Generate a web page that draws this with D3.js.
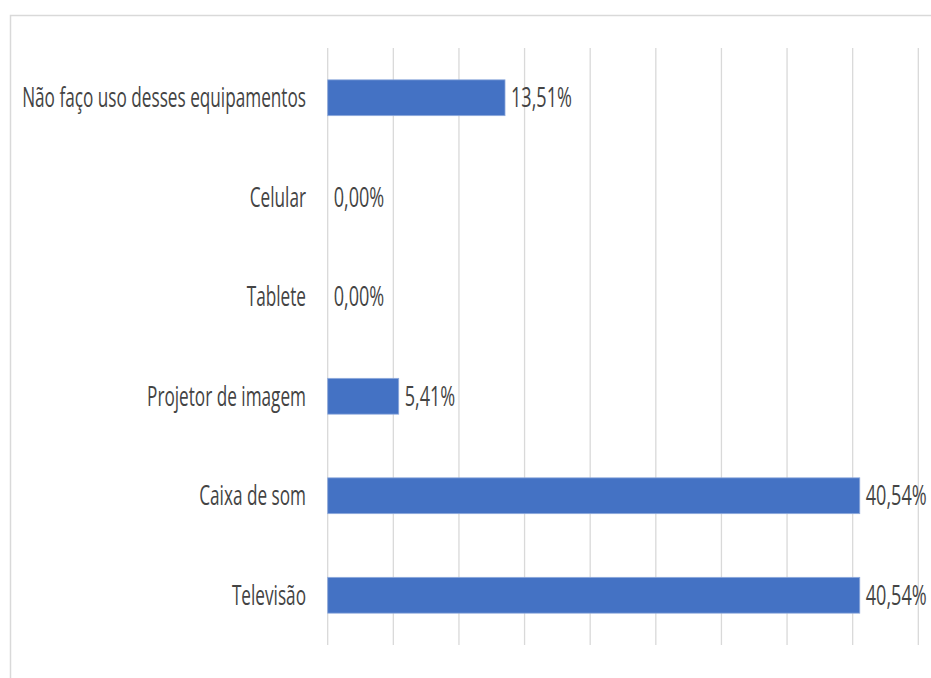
<!DOCTYPE html>
<html>
<head>
<meta charset="utf-8">
<script src="https://cdn.jsdelivr.net/npm/d3@7/dist/d3.min.js"></script>
<style>
  html, body { margin: 0; padding: 0; background: #fff; overflow: hidden; }
  #chart { width: 931px; height: 678px; }
</style>
</head>
<body>
<div id="chart"></div>
<script>
(function () {
  const CATEGORIES = [
    "Não faço uso desses equipamentos",
    "Celular",
    "Tablete",
    "Projetor de imagem",
    "Caixa de som",
    "Televisão"
  ];
  const VALUES = [13.51, 0.00, 0.00, 5.41, 40.54, 40.54];
  const X_MAX = 45;
  const X_STEP = 5;

  const WIDTH = 931, HEIGHT = 678;
  const PLOT = { left: 327.7, right: 918.3, top: 48, bottom: 645 };
  const BAR_COLOR = "#4472c4";
  const TEXT_COLOR = "#444444";
  const FONT = "'Open Sans', 'Liberation Sans', sans-serif";
  const FONT_SIZE = 27.5;

  const svg = d3.select("#chart").append("svg")
    .attr("width", WIDTH)
    .attr("height", HEIGHT)
    .attr("viewBox", `0 0 ${WIDTH} ${HEIGHT}`);

  // chart frame (cut by the right and bottom edges)
  svg.append("rect")
    .attr("x", 10.5)
    .attr("y", 15.5)
    .attr("width", WIDTH + 20)
    .attr("height", HEIGHT + 20)
    .attr("fill", "#fff")
    .attr("stroke", "#d9d9d9")
    .attr("stroke-width", 1.5);

  const x = d3.scaleLinear().domain([0, X_MAX]).range([PLOT.left, PLOT.right]);
  const y = d3.scaleBand()
    .domain(CATEGORIES)
    .range([PLOT.top, PLOT.bottom])
    .paddingInner(0.64)
    .paddingOuter(0.32);

  // vertical gridlines
  svg.append("g")
    .selectAll("line")
    .data(d3.range(0, X_MAX + X_STEP / 2, X_STEP))
    .join("line")
    .attr("x1", d => x(d))
    .attr("x2", d => x(d))
    .attr("y1", PLOT.top)
    .attr("y2", PLOT.bottom)
    .attr("stroke", "#d9d9d9")
    .attr("stroke-width", 1.3);

  svg.append("g")
    .selectAll("rect")
    .data(VALUES)
    .join("rect")
    .attr("x", x(0))
    .attr("y", (d, i) => y(CATEGORIES[i]))
    .attr("width", d => x(d) - x(0))
    .attr("height", y.bandwidth())
    .attr("fill", BAR_COLOR)
    .attr("stroke", "#8faadc")
    .attr("stroke-width", d => d > 0 ? 0.8 : 0);

  // measure the natural width of the longest label to squeeze text like the original
  const probe = svg.append("text")
    .attr("font-family", FONT)
    .attr("font-size", FONT_SIZE)
    .text(CATEGORIES[0]);
  const sx = 284 / probe.node().getComputedTextLength();
  probe.remove();

  const fmt = v => v.toFixed(2).replace(".", ",") + "%";

  // category labels
  svg.append("g")
    .selectAll("text")
    .data(CATEGORIES)
    .join("text")
    .attr("transform", d => `translate(306,${y(d) + y.bandwidth() / 2 + 9.5}) scale(${sx},1)`)
    .attr("text-anchor", "end")
    .attr("font-family", FONT)
    .attr("font-size", FONT_SIZE)
    .attr("fill", TEXT_COLOR)
    .text(d => d);

  // value labels
  svg.append("g")
    .selectAll("text")
    .data(VALUES)
    .join("text")
    .attr("transform", (d, i) => `translate(${x(d) + 6},${y(CATEGORIES[i]) + y.bandwidth() / 2 + 9.5}) scale(${sx * 1.05},1)`)
    .attr("font-family", FONT)
    .attr("font-size", FONT_SIZE)
    .attr("fill", TEXT_COLOR)
    .text(d => fmt(d));
})();
</script>
</body>
</html>
